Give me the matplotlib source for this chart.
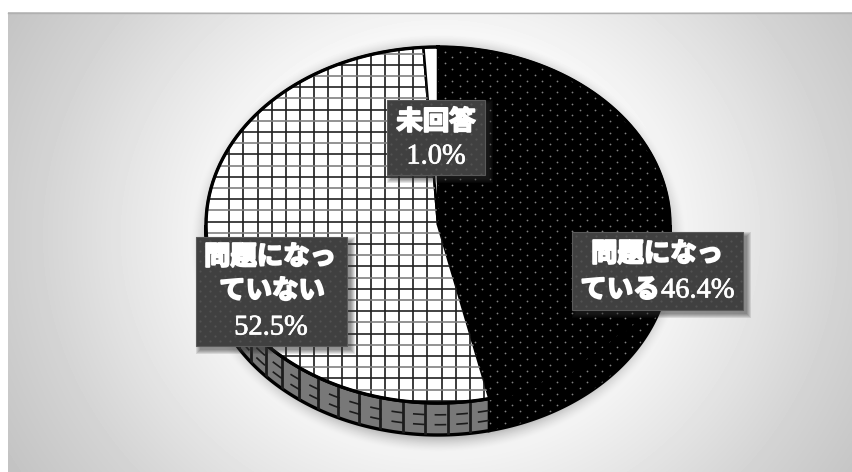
import numpy as np
import matplotlib
matplotlib.use('Agg')
import matplotlib.pyplot as plt
import matplotlib.patheffects as pe
from matplotlib.patches import Polygon, Rectangle

W, H = 853, 472
CX, CY = 438, 225
RX, RY = 232, 178
DEPTH = 32

# answer shares, clockwise from the top
shares = [46.4, 52.5, 1.0]
slice_colors = ['black', 'white', 'white']
wall_colors = ['black', '#787878', '#787878']

jp_font = ['Noto Sans CJK JP', 'DejaVu Sans']
num_font = ['Liberation Serif', 'DejaVu Serif']


def ux(x):
    return (np.asarray(x, dtype=float) - CX) / RX


def uy(y):
    return (CY - np.asarray(y, dtype=float)) / RY


def make_background():
    yy, xx = np.mgrid[0:H, 0:W]
    dist = np.hypot(xx - 440, (yy - 235) * 1.1)
    img = np.interp(dist, [0, 200, 313, 400, 500], [1.0, 0.985, 0.90, 0.83, 0.765])
    # soft halo around the pie
    d = np.hypot((xx - 438) / 232, (yy - 243) / 196)
    halo = np.clip((1.07 - d) / 0.11, 0, 1) ** 1.5
    img = img * (1 - 0.38 * halo)
    img[:12, :] = 1.0
    img[:, :8] = 1.0
    return img


fig = plt.figure(figsize=(W / 100, H / 100), dpi=100, facecolor='white')

bg = fig.add_axes([0, 0, 1, 1])
bg.imshow(make_background(), cmap='gray', vmin=0, vmax=1, aspect='auto',
          extent=(0, W, H, 0), interpolation='bilinear')
bg.plot([8, W], [12.5, 12.5], color='#b0b0b0', lw=1)
bg.set_xlim(0, W)
bg.set_ylim(H, 0)
bg.axis('off')

ax = fig.add_axes([0, 0, 1, 1])
ax.patch.set_alpha(0)

wedges, _ = ax.pie(shares, colors=slice_colors, startangle=90, counterclock=False,
                   radius=1, wedgeprops={'edgecolor': 'black', 'linewidth': 1.8})
ax.set_aspect('auto')
ax.set_xlim(ux(0), ux(W))
ax.set_ylim(uy(H), uy(0))
ax.axis('off')

depth_u = DEPTH / RY

# side wall of the pie, lower half only
start = 0.0
total = sum(shares)
wall_patches = []
for share, color in zip(shares, wall_colors):
    end = start + share / total * 360
    a0, a1 = max(start, 90), min(end, 270)
    if a1 > a0:
        t = np.radians(np.linspace(a0, a1, 120))
        top = np.column_stack([np.sin(t), np.cos(t)])
        low = top - [0, depth_u]
        poly = Polygon(np.vstack([top, low[::-1]]), closed=True, facecolor=color,
                       edgecolor='black', linewidth=2.4, zorder=0.5)
        ax.add_patch(poly)
        wall_patches.append((a0, a1, poly))
    start = end

# ribs and dashed rings on the grey part of the wall
a0, a1, gray_wall = wall_patches[1]
for phi in np.arange(-8, 92, 5.6):
    a = np.radians(180 + phi)
    xs = [np.sin(a), np.sin(a)]
    ys = [np.cos(a), np.cos(a) - depth_u]
    line, = ax.plot(xs, ys, color='#1c1c1c', lw=2.0, zorder=0.6)
    line.set_clip_path(gray_wall)
for frac in (0.37, 0.68):
    t = np.radians(np.linspace(a0, a1, 200))
    line, = ax.plot(np.sin(t), np.cos(t) - depth_u * frac, color='#1c1c1c', lw=1.2,
                    ls=(0, (7, 6)), zorder=0.6)
    line.set_clip_path(gray_wall)

# lattice on the largest white slice
grid_wedge = wedges[1]
for x in np.arange(CX - 208.7, CX + 80, 14.15):
    line, = ax.plot(ux([x, x]), [-1.05, 1.05], color='#1a1a1a', lw=1.2, zorder=2)
    line.set_clip_path(grid_wedge)
for i, y in enumerate(np.arange(53.6, 410, 11.2)):
    dark = i % 2 == 1
    line, = ax.plot([-1.05, 0.4], uy([y, y]), color='#222222' if dark else '#808080',
                    lw=1.2, zorder=2)
    line.set_clip_path(grid_wedge)

# dotted texture on the black slice and its wall
for wedge_patch in (wedges[0], wall_patches[0][2]):
    rows = np.arange(40, 445, 5.8)
    for i, y in enumerate(rows):
        xs = np.arange(430 + (i % 2) * 7.5, 680, 15)
        pts = ax.scatter(ux(xs), np.full(xs.shape, uy(y)), s=1.6, color='#808080',
                         linewidths=0, zorder=2)
        pts.set_clip_path(wedge_patch)

# outer rim redrawn above the textures
rim = np.radians(np.linspace(0, 360, 361))
ax.plot(np.sin(rim), np.cos(rim), color='black', lw=2.4, zorder=3)

ov = fig.add_axes([0, 0, 1, 1])
ov.patch.set_alpha(0)
ov.set_xlim(0, W)
ov.set_ylim(H, 0)
ov.axis('off')


def label_box(x0, y0, x1, y1):
    # stacked translucent rectangles give the drop shadow a soft edge
    for grow in (4, 3, 2, 1, 0):
        ov.add_patch(Rectangle((x0 + 4 - grow, y0 + 4 - grow), x1 - x0 + 2 * grow, y1 - y0 + 2 * grow,
                               facecolor='#303030', alpha=0.13, edgecolor='none', zorder=1))
    box = Rectangle((x0, y0), x1 - x0, y1 - y0, facecolor='#404040',
                    edgecolor='#5a5a5a', linewidth=0.8, zorder=2)
    ov.add_patch(box)
    for i, y in enumerate(np.arange(y0 + 4, y1, 5)):
        xs = np.arange(x0 + 4 + (i % 2) * 5, x1, 10)
        pts = ov.scatter(xs, np.full(xs.shape, y), s=2.5, color='#525252', linewidths=0, zorder=3)
        pts.set_clip_path(box)


def jp_text(x, y, s, size=19):
    ov.text(x, y, s, color='white', fontsize=size, family=jp_font, weight='bold',
            ha='center', va='center', zorder=4,
            path_effects=[pe.withStroke(linewidth=1.4, foreground='white')])


def num_text(x, y, s, ha='center', size=20.5):
    ov.text(x, y, s, color='white', fontsize=size, family=num_font,
            ha=ha, va='center', zorder=4,
            path_effects=[pe.withStroke(linewidth=0.5, foreground='white')])


label_box(387, 100, 485, 175)
jp_text(436, 122, '未回答')
num_text(436, 157, '1.0%')

label_box(196, 237, 347, 346)
jp_text(270, 257, '問題になっ')
jp_text(272, 291, 'ていない')
num_text(271, 328, '52.5%')

label_box(572, 232, 743, 310)
jp_text(657, 254, '問題になっ')
jp_text(620, 290, 'ている')
num_text(661, 291, '46.4%', ha='left')

fig.savefig('out.png', dpi=100, facecolor='white')
